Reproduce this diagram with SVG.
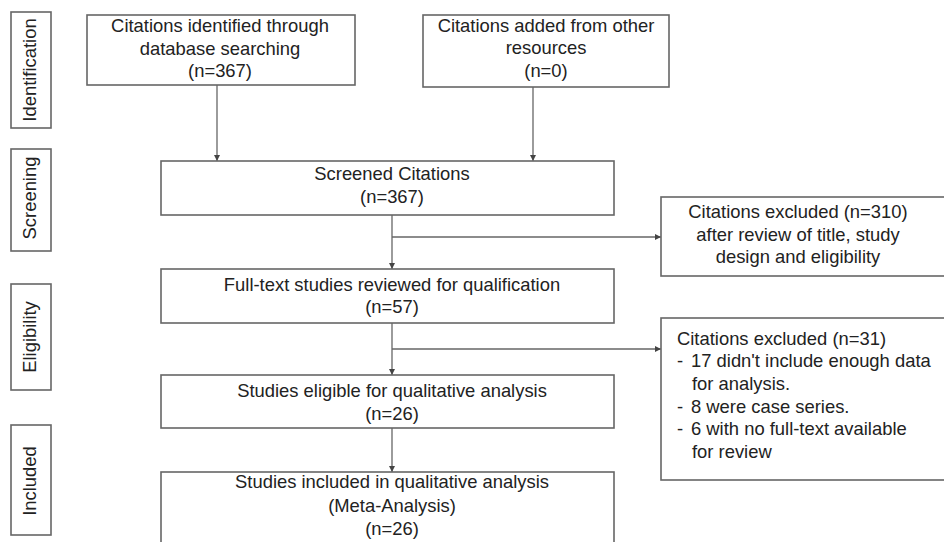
<svg xmlns="http://www.w3.org/2000/svg" width="944" height="542" viewBox="0 0 944 542">
<defs>
<marker id="ah" viewBox="0 0 10 10" refX="10" refY="5" markerWidth="6" markerHeight="6" markerUnits="userSpaceOnUse" orient="auto">
<path d="M0,0 L10,5 L0,10 Z" fill="#444"/>
</marker>
</defs>
<style>
.box{fill:#fff;stroke:#666;stroke-width:1.6}
.t{font-family:"Liberation Sans",Arial,sans-serif;font-size:18.4px;fill:#222}
.c{text-anchor:middle}
.ln{fill:none;stroke:#666;stroke-width:1.3}
</style>
<rect width="944" height="542" fill="#fff"/>
<g id="stage-identification"><rect class="box" x="11" y="12" width="40" height="116"/><text class="t c" transform="translate(35.5,70) rotate(-90)">Identification</text></g>
<g id="stage-screening"><rect class="box" x="11" y="149" width="40" height="102"/><text class="t c" transform="translate(35.5,198) rotate(-90)">Screening</text></g>
<g id="stage-eligibility"><rect class="box" x="11" y="284" width="40" height="106"/><text class="t c" transform="translate(35.5,337) rotate(-90)">Eligibility</text></g>
<g id="stage-included"><rect class="box" x="11" y="425" width="40" height="110"/><text class="t c" transform="translate(35.5,481) rotate(-90)">Included</text></g>
<g id="connectors">
<line class="ln" x1="217" y1="85" x2="217" y2="161" marker-end="url(#ah)"/>
<line class="ln" x1="533" y1="87" x2="533" y2="161" marker-end="url(#ah)"/>
<line class="ln" x1="392" y1="215" x2="392" y2="269" marker-end="url(#ah)"/>
<line class="ln" x1="392" y1="237" x2="661" y2="237" marker-end="url(#ah)"/>
<line class="ln" x1="392" y1="323" x2="392" y2="375" marker-end="url(#ah)"/>
<line class="ln" x1="392" y1="349" x2="661" y2="349" marker-end="url(#ah)"/>
<line class="ln" x1="392" y1="428" x2="392" y2="472" marker-end="url(#ah)"/>
</g>
<g id="n-database"><rect class="box" x="87" y="15" width="268" height="70"/>
<text class="t c" x="220" y="32">Citations identified through</text>
<text class="t c" x="220" y="55">database searching</text>
<text class="t c" x="220" y="77">(n=367)</text></g>
<g id="n-other"><rect class="box" x="423" y="15" width="246" height="72"/>
<text class="t c" x="546" y="32">Citations added from other</text>
<text class="t c" x="546" y="54">resources</text>
<text class="t c" x="546" y="77">(n=0)</text></g>
<g id="n-screened"><rect class="box" x="161" y="161" width="453" height="54"/>
<text class="t c" x="392" y="180">Screened Citations</text>
<text class="t c" x="392" y="203">(n=367)</text></g>
<g id="n-excluded1"><rect class="box" x="661" y="197" width="290" height="79"/>
<text class="t c" x="798" y="218">Citations excluded (n=310)</text>
<text class="t c" x="798" y="241">after review of title, study</text>
<text class="t c" x="798" y="263">design and eligibility</text></g>
<g id="n-excluded2"><rect class="box" x="661" y="318" width="290" height="162"/>
<text class="t" x="677" y="345">Citations excluded (n=31)</text>
<text class="t" x="677" y="367">-</text><text class="t" x="691" y="367">17 didn't include enough data</text>
<text class="t" x="692" y="390">for analysis.</text>
<text class="t" x="677" y="413">-</text><text class="t" x="691" y="413">8 were case series.</text>
<text class="t" x="677" y="435">-</text><text class="t" x="691" y="435">6 with no full-text available</text>
<text class="t" x="692" y="458">for review</text></g>
<g id="n-fulltext"><rect class="box" x="161" y="269" width="453" height="54"/>
<text class="t c" x="392" y="291">Full-text studies reviewed for qualification</text>
<text class="t c" x="392" y="313">(n=57)</text></g>
<g id="n-eligible"><rect class="box" x="161" y="375" width="453" height="53"/>
<text class="t c" x="392" y="397">Studies eligible for qualitative analysis</text>
<text class="t c" x="392" y="420">(n=26)</text></g>
<g id="n-included"><rect class="box" x="161" y="472" width="453" height="80"/>
<text class="t c" x="392" y="488">Studies included in qualitative analysis</text>
<text class="t c" x="392" y="512">(Meta-Analysis)</text>
<text class="t c" x="392" y="535">(n=26)</text></g>
</svg>
